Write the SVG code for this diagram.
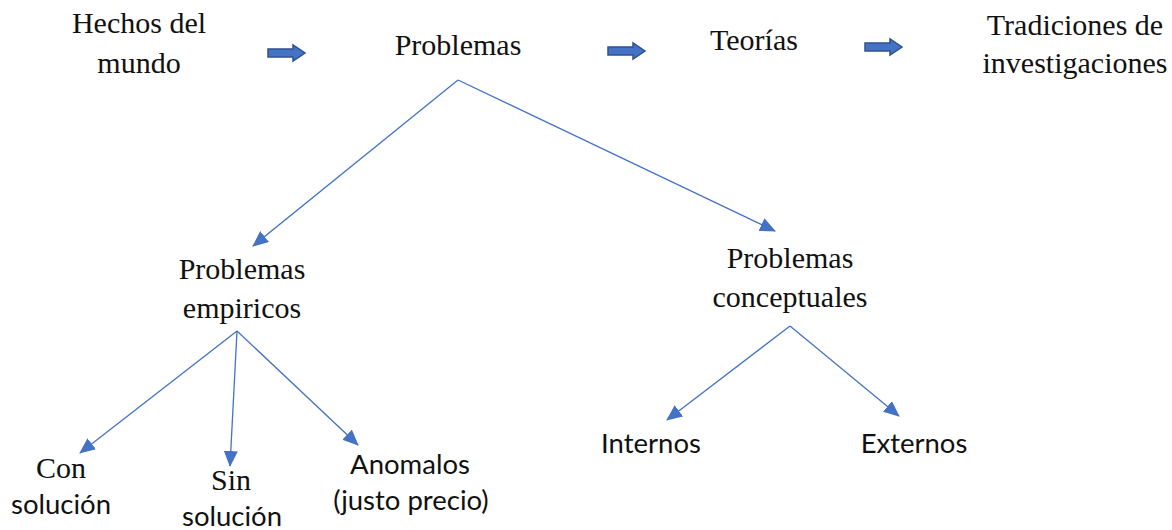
<svg xmlns="http://www.w3.org/2000/svg" width="1172" height="530" viewBox="0 0 1172 530">
<defs>
<style>
.s{font-family:"Liberation Serif","Times New Roman",serif;font-size:30px;fill:#111;text-anchor:middle}
.a{font-family:Lato,"Liberation Sans",sans-serif;font-size:27.5px;fill:#111;text-anchor:middle}
.c{stroke:#4472C4;stroke-width:1.3;fill:none}
.b{fill:#4472C4;stroke:#2F528F;stroke-width:1.5}
</style>
<marker id="ah" markerUnits="userSpaceOnUse" markerWidth="16" markerHeight="14" refX="15" refY="7" orient="auto">
<path d="M0,0 L16,7 L0,14 Z" fill="#4472C4"/>
</marker>
</defs>
<rect width="1172" height="530" fill="#fff"/>
<g id="hechos"><text class="s" x="139" y="33">Hechos del</text><text class="s" x="139" y="73">mundo</text></g>
<g id="problemas"><text class="s" x="458" y="55">Problemas</text></g>
<g id="teorias"><text class="s" x="754" y="50">Teorías</text></g>
<g id="tradiciones"><text class="s" x="1075" y="35">Tradiciones de</text><text class="s" x="1075" y="73">investigaciones</text></g>
<g id="empiricos"><text class="s" x="242" y="279">Problemas</text><text class="s" x="242" y="318">empiricos</text></g>
<g id="conceptuales"><text class="s" x="790" y="268">Problemas</text><text class="s" x="790" y="307">conceptuales</text></g>
<g id="con"><text class="s" x="61" y="478">Con</text><text class="a" x="61" y="514">solución</text></g>
<g id="sin"><text class="s" x="231" y="490">Sin</text><text class="a" x="232" y="526">solución</text></g>
<g id="anomalos"><text class="a" x="410" y="474">Anomalos</text><text class="a" x="411" y="510">(justo precio)</text></g>
<g id="internos"><text class="a" x="651" y="453">Internos</text></g>
<g id="externos"><text class="a" x="914" y="453">Externos</text></g>
<g id="connectors">
<path class="b" d="M268,49 H293 V45 L305,53 L293,61 V57 H268 Z"/>
<path class="b" d="M608,47 H633 V43 L645,51 L633,59 V55 H608 Z"/>
<path class="b" d="M865,43 H890 V39 L902,47 L890,55 V51 H865 Z"/>
<line class="c" x1="458" y1="80" x2="253" y2="246" marker-end="url(#ah)"/>
<line class="c" x1="458" y1="80" x2="775" y2="231" marker-end="url(#ah)"/>
<line class="c" x1="237" y1="331" x2="80" y2="453" marker-end="url(#ah)"/>
<line class="c" x1="237" y1="331" x2="230" y2="466" marker-end="url(#ah)"/>
<line class="c" x1="237" y1="331" x2="358" y2="445" marker-end="url(#ah)"/>
<line class="c" x1="790" y1="326" x2="667" y2="420" marker-end="url(#ah)"/>
<line class="c" x1="790" y1="326" x2="899" y2="416" marker-end="url(#ah)"/>
</g>
</svg>
